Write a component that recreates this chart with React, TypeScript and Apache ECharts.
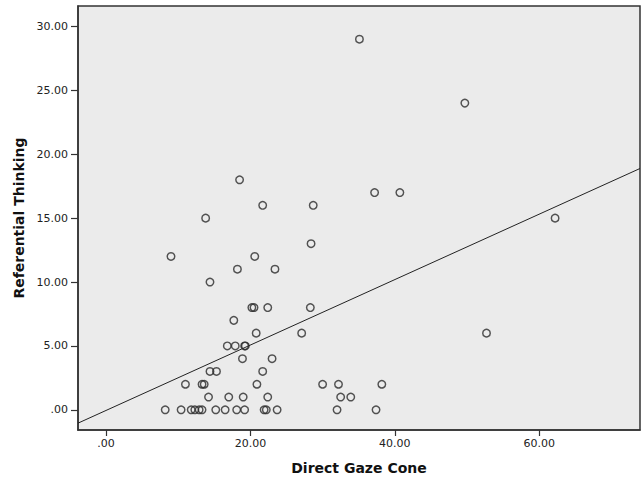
import React, { useEffect, useRef } from "react";
import * as echarts from "echarts";

// Scatter data: [Direct Gaze Cone, Referential Thinking]
const gazeCone: number[] = [
  35.1, 49.7, 18.5, 37.2, 40.7, 21.7, 28.7, 13.8, 62.2, 28.4,
  9.0, 20.6, 18.2, 23.4, 14.4, 20.2, 20.5, 22.4, 28.3, 17.7,
  20.8, 27.1, 52.7, 16.8, 17.9, 19.2, 19.3, 18.9, 23.0, 14.4,
  15.3, 21.7, 11.0, 13.3, 13.6, 20.9, 30.0, 32.2, 38.2, 14.2,
  17.0, 19.0, 22.4, 32.5, 33.9, 8.2, 10.4, 11.8, 12.3, 12.9,
  13.3, 15.2, 16.5, 18.1, 19.2, 21.9, 22.2, 23.7, 32.0, 37.4,
];
const referentialThinking: number[] = [
  29, 24, 18, 17, 17, 16, 16, 15, 15, 13,
  12, 12, 11, 11, 10, 8, 8, 8, 8, 7,
  6, 6, 6, 5, 5, 5, 5, 4, 4, 3,
  3, 3, 2, 2, 2, 2, 2, 2, 2, 1,
  1, 1, 1, 1, 1, 0, 0, 0, 0, 0,
  0, 0, 0, 0, 0, 0, 0, 0, 0, 0,
];

// Fit line (total)
const fitIntercept = -0.05;
const fitSlope = 0.256;

// Axis ranges and ticks
const xRange: [number, number] = [-3.88, 73.96];
const yRange: [number, number] = [-1.58, 31.6];
const xTicks: number[] = [0, 20, 40, 60];
const yTicks: number[] = [0, 5, 10, 15, 20, 25, 30];

const xTitle = "Direct Gaze Cone";
const yTitle = "Referential Thinking";

const fmt = (v: number) => {
  const s = v.toFixed(2);
  return s.startsWith("0.") ? s.slice(1) : s;
};

export default function App() {
  const ref = useRef<HTMLDivElement>(null);
  useEffect(() => {
    if (!ref.current) return;
    const chart = echarts.init(ref.current, undefined, { renderer: "svg" });
    const points = gazeCone.map((x, i) => [x, referentialThinking[i]]);
    const fitLine = xRange.map((x) => [x, fitIntercept + fitSlope * x]);
    const font = "DejaVu Sans";
    chart.setOption({
      animation: false,
      backgroundColor: "#ffffff",
      grid: {
        left: 78,
        right: 3,
        top: 6,
        bottom: 48,
        show: true,
        backgroundColor: "#ebebeb",
        borderColor: "#333333",
        borderWidth: 1.5,
      },
      xAxis: {
        type: "value",
        min: xRange[0],
        max: xRange[1],
        name: xTitle,
        nameLocation: "middle",
        nameGap: 31,
        nameTextStyle: { fontFamily: font, fontWeight: "bold", fontSize: 14, color: "#111111" },
        axisLine: { show: true, onZero: false, lineStyle: { color: "#333333", width: 1.5 } },
        axisTick: { show: true, length: 6, customValues: xTicks, lineStyle: { color: "#333333", width: 1.2 } },
        axisLabel: {
          customValues: xTicks,
          formatter: (v: number) => fmt(v),
          fontFamily: font,
          fontSize: 11,
          color: "#222222",
          margin: 8,
        },
        splitLine: { show: false },
      },
      yAxis: {
        type: "value",
        min: yRange[0],
        max: yRange[1],
        name: yTitle,
        nameLocation: "middle",
        nameGap: 50,
        nameTextStyle: { fontFamily: font, fontWeight: "bold", fontSize: 14, color: "#111111" },
        axisLine: { show: true, onZero: false, lineStyle: { color: "#333333", width: 1.5 } },
        axisTick: { show: true, length: 7, customValues: yTicks, lineStyle: { color: "#333333", width: 1.2 } },
        axisLabel: {
          customValues: yTicks,
          formatter: (v: number) => fmt(v),
          fontFamily: font,
          fontSize: 11,
          color: "#222222",
          margin: 10,
        },
        splitLine: { show: false },
      },
      series: [
        {
          type: "line",
          data: fitLine,
          symbol: "none",
          lineStyle: { color: "#222222", width: 1 },
          silent: true,
          z: 1,
        },
        {
          type: "scatter",
          data: points,
          symbol: "circle",
          symbolSize: 7.5,
          itemStyle: { color: "rgba(0,0,0,0)", borderColor: "#2a2a2a", borderWidth: 1.45 },
          z: 2,
        },
      ],
    });
    return () => chart.dispose();
  }, []);
  return (
    <div
      ref={ref}
      style={{ position: "fixed", left: 0, top: 0, width: 643, height: 480 }}
    />
  );
}
